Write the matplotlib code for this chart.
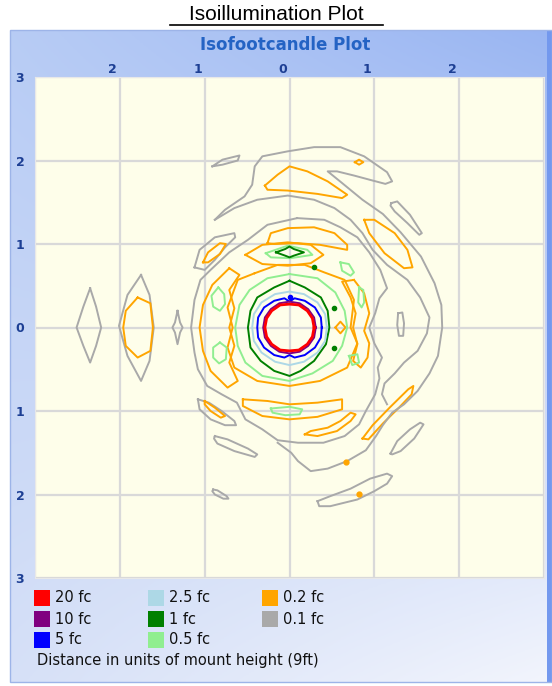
import numpy as np
import matplotlib.pyplot as plt
from matplotlib.patches import Rectangle
from matplotlib.lines import Line2D
from matplotlib.transforms import ScaledTranslation

# ---- data: contour traces in units of mount height (x right, y up) ----
# 20 fc
red_ring = [(0.29, 0), (0.27, 0.11), (0.21, 0.2), (0.11, 0.27), (0, 0.28), (-0.11, 0.27),
            (-0.21, 0.2), (-0.27, 0.11), (-0.29, 0), (-0.27, -0.11), (-0.21, -0.2),
            (-0.11, -0.27), (0, -0.28), (0.11, -0.27), (0.21, -0.2), (0.27, -0.11)]
# 10 fc
purple_ring = [(0.31, 0), (0.29, 0.12), (0.22, 0.22), (0.12, 0.29), (0, 0.31), (-0.12, 0.29),
               (-0.22, 0.22), (-0.29, 0.12), (-0.31, 0), (-0.29, -0.12), (-0.22, -0.22),
               (-0.12, -0.29), (0, -0.31), (0.12, -0.29), (0.22, -0.22), (0.29, -0.12)]
# 5 fc
blue_ring = [(0.38, 0), (0.37, 0.12), (0.3, 0.24), (0.18, 0.32), (0.06, 0.35), (0, 0.31),
             (-0.06, 0.35), (-0.18, 0.32), (-0.3, 0.24), (-0.37, 0.12), (-0.38, 0),
             (-0.37, -0.12), (-0.3, -0.24), (-0.18, -0.33), (-0.06, -0.36), (0, -0.33),
             (0.06, -0.36), (0.18, -0.33), (0.3, -0.24), (0.37, -0.12)]
blue_dot_x = [0.0]
blue_dot_y = [0.37]
# 2.5 fc
lblue_ring = [(0.44, 0), (0.42, 0.16), (0.33, 0.3), (0.17, 0.4), (0, 0.43), (-0.17, 0.4),
              (-0.33, 0.3), (-0.42, 0.16), (-0.44, 0), (-0.42, -0.16), (-0.33, -0.3),
              (-0.17, -0.41), (0, -0.45), (0.17, -0.41), (0.33, -0.3), (0.42, -0.16)]
# 1 fc
dgreen_ring = [(0, 0.56), (0.18, 0.48), (0.37, 0.36), (0.45, 0.2), (0.47, 0), (0.43, -0.2),
               (0.29, -0.4), (0.13, -0.52), (0, -0.58), (-0.18, -0.52), (-0.34, -0.4),
               (-0.46, -0.24), (-0.49, 0), (-0.46, 0.2), (-0.38, 0.36), (-0.18, 0.48)]
dgreen_top = [(-0.16, 0.9), (-0.05, 0.94), (0, 0.97), (0.05, 0.94), (0.17, 0.9),
              (0.05, 0.86), (0, 0.84), (-0.05, 0.86)]
dgreen_dot_x = [0.29, 0.53, 0.53]
dgreen_dot_y = [0.72, 0.23, -0.25]
# 0.5 fc
lgreen_ring = [(0, 0.64), (0.33, 0.59), (0.54, 0.42), (0.65, 0.2), (0.68, 0), (0.62, -0.22),
               (0.51, -0.4), (0.27, -0.55), (0, -0.64), (-0.32, -0.58), (-0.52, -0.42),
               (-0.61, -0.22), (-0.64, 0), (-0.59, 0.27), (-0.47, 0.45), (-0.26, 0.59)]
lgreen_top = [(-0.28, 0.89), (-0.02, 0.98), (0.21, 0.93), (0.27, 0.87), (0.01, 0.83), (-0.22, 0.84)]
lgreen_left_up = [(-0.84, 0.48), (-0.77, 0.4), (-0.76, 0.28), (-0.82, 0.2), (-0.9, 0.25), (-0.92, 0.38)]
lgreen_left_dn = [(-0.82, -0.18), (-0.74, -0.24), (-0.75, -0.38), (-0.83, -0.43), (-0.9, -0.36), (-0.9, -0.24)]
lgreen_right_up = [(0.82, 0.48), (0.87, 0.45), (0.88, 0.3), (0.85, 0.24), (0.81, 0.3)]
lgreen_right_dn = [(0.7, -0.34), (0.8, -0.32), (0.82, -0.42), (0.74, -0.45)]
lgreen_upper_right = [(0.6, 0.78), (0.7, 0.76), (0.76, 0.66), (0.72, 0.62), (0.62, 0.68)]
lgreen_bottom = [(-0.22, -0.97), (0.0, -0.95), (0.15, -0.98), (0.12, -1.04), (-0.05, -1.05), (-0.2, -1.02)]
# 0.2 fc
orange_top_tri = [(-0.29, 1.7), (-0.14, 1.83), (0, 1.93), (0.21, 1.87), (0.45, 1.75), (0.68, 1.59),
                  (0.62, 1.55), (0.33, 1.6), (-0.02, 1.64), (-0.26, 1.65)]
orange_top_dot = [(0.77, 1.98), (0.82, 2.01), (0.87, 1.98), (0.82, 1.95)]
orange_upper_left = [(-1.02, 0.78), (-0.96, 0.9), (-0.82, 1.01), (-0.75, 1.0), (-0.82, 0.88), (-0.96, 0.78)]
orange_upper_right = [(0.88, 1.29), (1.0, 1.29), (1.24, 1.13), (1.39, 0.93), (1.45, 0.72),
                      (1.35, 0.71), (1.12, 0.89), (0.94, 1.13)]
orange_cap = [(-0.26, 1.01), (-0.22, 1.13), (-0.02, 1.19), (0.29, 1.2), (0.53, 1.13), (0.68, 0.99),
              (0.68, 0.93), (0.36, 0.99), (0.09, 1.01), (-0.18, 1.0)]
orange_blob = [(-0.52, 0.87), (-0.32, 0.99), (-0.02, 1.02), (0.25, 0.99), (0.4, 0.87),
               (0.25, 0.77), (-0.02, 0.74), (-0.32, 0.76)]
orange_inner = [(-0.41, 0.65), (-0.14, 0.75), (0.18, 0.75), (0.41, 0.66), (0.65, 0.57), (0.76, 0.33),
                (0.72, 0), (0.8, -0.19), (0.68, -0.48), (0.36, -0.64), (0, -0.7), (-0.38, -0.64),
                (-0.65, -0.48), (-0.73, -0.24), (-0.67, 0), (-0.73, 0.24), (-0.61, 0.57)]
orange_left_br = [(-0.71, 0.71), (-0.91, 0.51), (-1.02, 0.27), (-1.06, 0), (-1.02, -0.28),
                  (-0.93, -0.52), (-0.73, -0.72), (-0.61, -0.64), (-0.71, -0.42), (-0.65, -0.22),
                  (-0.71, 0), (-0.65, 0.23), (-0.71, 0.45), (-0.59, 0.63)]
orange_right_br = [(0.76, 0.57), (0.88, 0.41), (0.94, 0.17), (0.88, -0.04), (0.94, -0.19),
                   (0.92, -0.36), (0.84, -0.48), (0.75, -0.4), (0.8, -0.2), (0.75, 0),
                   (0.78, 0.17), (0.72, 0.36), (0.62, 0.55)]
orange_diamond = [(0.54, 0), (0.6, 0.07), (0.66, 0), (0.6, -0.07)]
orange_bottom = [(-0.55, -0.86), (-0.26, -0.88), (0, -0.92), (0.33, -0.9), (0.62, -0.86),
                 (0.62, -0.98), (0.33, -1.07), (0, -1.1), (-0.32, -1.06), (-0.55, -0.94)]
orange_low_left = [(-1.0, -0.88), (-0.88, -0.96), (-0.76, -1.06), (-0.81, -1.08), (-0.93, -1.0), (-1.0, -0.92)]
orange_low_arc = [(0.18, -1.28), (0.33, -1.3), (0.56, -1.24), (0.72, -1.12), (0.78, -1.04),
                  (0.72, -1.02), (0.6, -1.12), (0.45, -1.2), (0.25, -1.24)]
orange_low_right = [(0.86, -1.33), (0.98, -1.17), (1.18, -0.96), (1.4, -0.74), (1.46, -0.7),
                    (1.44, -0.8), (1.3, -0.95), (1.1, -1.15), (0.93, -1.34)]
orange_left_lens = [(-1.79, 0.36), (-1.93, 0.2), (-1.96, 0), (-1.93, -0.22), (-1.79, -0.36),
                    (-1.64, -0.28), (-1.61, 0), (-1.64, 0.29)]
orange_dot_x = [0.67, 0.82]
orange_dot_y = [-1.61, -1.99]
# 0.1 fc
gray_far_left = [(-2.35, 0.47), (-2.28, 0.25), (-2.22, 0), (-2.28, -0.22), (-2.35, -0.42),
                 (-2.43, -0.22), (-2.51, 0), (-2.43, 0.25)]
gray_left_lens = [(-1.75, 0.63), (-1.91, 0.39), (-2.01, 0.02), (-1.91, -0.34), (-1.75, -0.64),
                  (-1.65, -0.4), (-1.6, 0), (-1.65, 0.39)]
gray_left_spindle = [(-1.32, 0.2), (-1.29, 0.06), (-1.26, 0), (-1.29, -0.06), (-1.32, -0.2),
                     (-1.35, -0.06), (-1.38, 0), (-1.35, 0.06)]
gray_right_spindle = [(1.28, 0.17), (1.33, 0.18), (1.35, 0.05), (1.34, -0.1), (1.29, -0.1), (1.27, 0.03)]
gray_top_small = [(-0.91, 1.93), (-0.79, 2.01), (-0.59, 2.06), (-0.61, 2.0), (-0.79, 1.95)]
gray_top_right = [(1.2, 1.49), (1.27, 1.51), (1.42, 1.35), (1.56, 1.13), (1.53, 1.11),
                  (1.39, 1.25), (1.24, 1.39), (1.19, 1.46)]
gray_upper_left = [(-1.12, 0.72), (-1.06, 0.93), (-0.88, 1.08), (-0.65, 1.13), (-0.64, 1.08),
                   (-0.76, 0.96), (-0.88, 0.81), (-1.0, 0.69)]
gray_arch = [(-0.88, 1.29), (-0.76, 1.41), (-0.53, 1.57), (-0.44, 1.71), (-0.41, 1.93), (-0.32, 2.05),
             (-0.02, 2.11), (0.29, 2.16), (0.6, 2.16), (0.88, 2.05), (1.15, 1.86), (1.21, 1.75),
             (1.13, 1.72), (0.98, 1.76), (0.76, 1.82), (0.56, 1.87), (0.45, 1.87), (0.62, 1.73),
             (0.86, 1.53), (1.1, 1.36), (1.31, 1.14), (1.55, 0.85), (1.71, 0.53), (1.79, 0.27),
             (1.8, 0), (1.75, -0.34), (1.65, -0.55), (1.51, -0.76), (1.35, -0.92), (1.21, -1.02),
             (1.1, -1.17), (1.02, -1.3), (0.9, -1.47), (0.68, -1.6), (0.45, -1.69), (0.25, -1.72),
             (0.1, -1.6), (0.02, -1.5), (-0.14, -1.38)]
gray_hole = [(-0.88, 1.29), (-0.65, 1.43), (-0.38, 1.53), (-0.02, 1.58), (0.29, 1.53), (0.53, 1.43),
             (0.72, 1.29), (0.86, 1.13), (0.98, 0.93), (1.15, 0.75), (1.39, 0.57), (1.54, 0.36),
             (1.65, 0.12), (1.62, -0.07), (1.51, -0.28), (1.35, -0.42), (1.24, -0.55),
             (1.12, -0.67), (1.09, -0.8), (1.15, -0.92)]
gray_ring = [(0.09, 1.31), (0.41, 1.29), (0.6, 1.2), (0.8, 1.08), (0.94, 0.9), (1.07, 0.69),
             (1.15, 0.47), (1.06, 0.35), (1.01, 0.17), (0.94, 0), (1.0, -0.19), (1.09, -0.36),
             (1.04, -0.48), (1.06, -0.61), (1.01, -0.8), (0.9, -1.0), (0.82, -1.16), (0.65, -1.3),
             (0.4, -1.38), (0.1, -1.38), (-0.14, -1.35), (-0.32, -1.22), (-0.52, -1.1),
             (-0.62, -0.9), (-0.8, -0.8), (-0.97, -0.7), (-1.08, -0.5), (-1.12, -0.3), (-1.16, 0),
             (-1.12, 0.33), (-1.05, 0.57), (-0.93, 0.69), (-0.71, 0.9), (-0.49, 1.05), (-0.26, 1.23)]
gray_low_left = [(-1.08, -0.86), (-0.95, -0.9), (-0.8, -1.0), (-0.65, -1.12), (-0.63, -1.17),
                 (-0.76, -1.17), (-0.93, -1.1), (-1.06, -0.98)]
gray_low_ell = [(-0.88, -1.3), (-0.73, -1.34), (-0.49, -1.45), (-0.38, -1.52), (-0.41, -1.55),
                (-0.65, -1.48), (-0.85, -1.39), (-0.89, -1.33)]
gray_low_small = [(-0.9, -1.94), (-0.85, -1.95), (-0.74, -2.02), (-0.72, -2.05), (-0.78, -2.05),
                  (-0.88, -2.0), (-0.91, -1.96)]
gray_low_right = [(1.19, -1.51), (1.27, -1.36), (1.42, -1.22), (1.54, -1.14), (1.58, -1.16),
                  (1.47, -1.33), (1.31, -1.48), (1.21, -1.52)]
gray_bottom_ell = [(0.33, -2.08), (0.48, -2.02), (0.72, -1.93), (0.95, -1.81), (1.15, -1.75),
                   (1.21, -1.78), (1.15, -1.87), (1.0, -1.96), (0.8, -2.06), (0.48, -2.14), (0.35, -2.14)]

levels = ['20 fc', '10 fc', '5 fc', '2.5 fc', '1 fc', '0.5 fc', '0.2 fc', '0.1 fc']
level_colors = ['#ff0000', '#800080', '#0000ff', '#add8e6', '#008000', '#90ee90', '#ffa500', '#a9a9a9']
tick_vals = [-3, -2, -1, 0, 1, 2, 3]
xtick_vals = [-2, -1, 0, 1, 2]

# closed traces per colour, open traces listed apart
closed = {
    '#a9a9a9': [gray_far_left, gray_left_lens, gray_left_spindle, gray_right_spindle, gray_top_small,
                gray_top_right, gray_upper_left, gray_ring, gray_low_left, gray_low_ell,
                gray_low_small, gray_low_right, gray_bottom_ell],
    '#ffa500': [orange_top_tri, orange_top_dot, orange_upper_left, orange_upper_right, orange_cap,
                orange_blob, orange_inner, orange_left_br, orange_right_br, orange_diamond,
                orange_bottom, orange_low_left, orange_low_arc, orange_low_right, orange_left_lens],
    '#90ee90': [lgreen_ring, lgreen_top, lgreen_left_up, lgreen_left_dn, lgreen_right_up,
                lgreen_right_dn, lgreen_upper_right, lgreen_bottom],
    '#008000': [dgreen_ring, dgreen_top],
    '#add8e6': [lblue_ring],
    '#0000ff': [blue_ring],
    '#800080': [purple_ring],
    '#ff0000': [red_ring],
}
open_lines = {'#a9a9a9': [gray_arch, gray_hole]}

W, H = 552, 686
fig = plt.figure(figsize=(W / 100, H / 100), dpi=100)


def fx(px):
    return px / W


def fy(py):
    return 1 - py / H


# outer title
fig.text(fx(276), fy(15), 'Isoillumination Plot', ha='center', va='center',
         fontsize=15, family='Liberation Sans', color='black')
fig.add_artist(Line2D([fx(170), fx(383)], [fy(25), fy(25)], color='black', lw=1.2))

# blue gradient panel
bg = fig.add_axes([fx(10), fy(682), fx(552) - fx(10), fy(30) - fy(682)])
yy, xx = np.mgrid[0:1:200j, 0:1:200j]
tl = np.array([0.72, 0.80, 0.96])
tr = np.array([0.60, 0.71, 0.95])
bl = np.array([0.84, 0.88, 0.97])
br = np.array([0.95, 0.96, 0.99])
img = (tl * ((1 - xx) * (1 - yy))[..., None] + tr * (xx * (1 - yy))[..., None]
       + bl * ((1 - xx) * yy)[..., None] + br * (xx * yy)[..., None])
bg.imshow(img, aspect='auto', extent=[0, 1, 0, 1], origin='upper')
bg.set_axis_off()
fig.add_artist(Rectangle((fx(547), fy(682)), fx(5), fy(30) - fy(682), transform=fig.transFigure,
                         facecolor='#7398ee', edgecolor='none'))
fig.add_artist(Rectangle((fx(10), fy(682)), fx(552) - fx(10), fy(30) - fy(682),
                         transform=fig.transFigure, facecolor='none', edgecolor='#9db4e8', lw=1))

fig.text(fx(285), fy(45), 'Isofootcandle Plot', ha='center', va='center',
         fontsize=12, fontweight='bold', color='#2463c4', family='DejaVu Sans')

# plot area
ax = fig.add_axes([fx(35), fy(578), (544 - 35) / W, (578 - 77) / H])
ax.set_facecolor('#fefeea')
ax.set_xlim(-3, 3)
ax.set_ylim(-3, 3)
for v in tick_vals:
    ax.axvline(v, color='#d9d9d9', lw=1.6, zorder=0)
    ax.axhline(v, color='#d9d9d9', lw=1.6, zorder=0)
for s in ax.spines.values():
    s.set_color('#e8e8e8')

ax.xaxis.tick_top()
ax.set_xticks(xtick_vals)
ax.set_xticklabels([str(abs(v)) for v in xtick_vals])
ax.set_yticks(tick_vals)
ax.set_yticklabels([str(abs(v)) for v in tick_vals])
ax.tick_params(length=0, labelsize=9, labelcolor='#1d3f94')
ax.tick_params(axis='x', pad=1)
ax.tick_params(axis='y', pad=8)
for lab in ax.get_xticklabels() + ax.get_yticklabels():
    lab.set_fontweight('bold')
for lab in ax.get_xticklabels():
    lab.set_transform(lab.get_transform() + ScaledTranslation(-7 / 100, 0, fig.dpi_scale_trans))
for lab in ax.get_yticklabels():
    lab.set_horizontalalignment('center')
    lab.set_transform(lab.get_transform() + ScaledTranslation(-4 / 100, 0, fig.dpi_scale_trans))

for col, shapes in closed.items():
    lw = 2.0 if col == '#ff0000' else 1.4
    for pts in shapes:
        arr = np.array(pts + [pts[0]])
        ax.plot(arr[:, 0], arr[:, 1], color=col, lw=lw, solid_joinstyle='round')
for col, shapes in open_lines.items():
    for pts in shapes:
        arr = np.array(pts)
        ax.plot(arr[:, 0], arr[:, 1], color=col, lw=1.4, solid_joinstyle='round')

ax.plot(dgreen_dot_x, dgreen_dot_y, 'o', color='#008000', ms=3)
ax.plot(blue_dot_x, blue_dot_y, 'o', color='#0000ff', ms=3)
ax.plot(orange_dot_x, orange_dot_y, 'o', color='#ffa500', ms=3.5)

# legend
col_x = [34, 148, 262]
row_y = [598, 619, 640]
for i, (lab, c) in enumerate(zip(levels, level_colors)):
    cx = col_x[i // 3]
    ry = row_y[i % 3]
    fig.add_artist(Rectangle((fx(cx), fy(ry + 8)), fx(16), fy(0) - fy(16), transform=fig.transFigure,
                             facecolor=c, edgecolor='none'))
    fig.text(fx(cx + 21), fy(ry), lab, ha='left', va='center', fontsize=10.5,
             family='DejaVu Sans', color='#111111')
fig.text(fx(37), fy(661), 'Distance in units of mount height (9ft)', ha='left', va='center',
         fontsize=10.5, family='DejaVu Sans', color='#111111')

fig.savefig('out.png', dpi=100)
